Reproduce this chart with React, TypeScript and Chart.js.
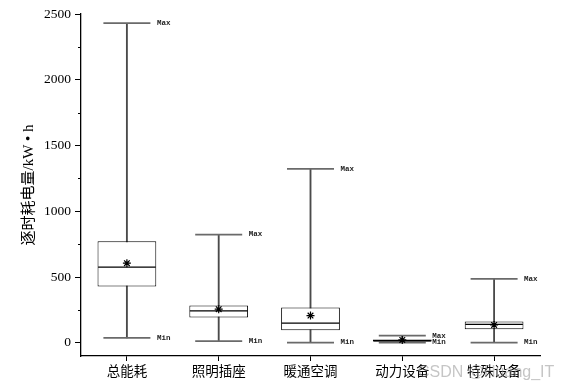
import React, { useEffect, useRef } from "react";
import { Chart, registerables } from "chart.js";

Chart.register(...registerables);

const categories = ["总能耗", "照明插座", "暖通空调", "动力设备", "特殊设备"];
const maxVals = [2430, 823, 1322, 55, 486];
const q3Vals = [773, 283, 268, 25, 162];
const medianVals = [575, 243, 150, 15, 141];
const q1Vals = [428, 192, 96, 10, 104];
const minVals = [38, 13, 2, 2, 2];
const meanVals = [606, 256, 207, 22, 136];
const majorTicks = [0, 500, 1000, 1500, 2000, 2500];
const minorTicks = [250, 750, 1250, 1750, 2250];
const yTitle = "逐时耗电量/kW • h";
const watermark = "CSDN @Huang_IT";

const FONT = "'Liberation Serif', 'Noto Sans CJK SC', serif";

const boxPlugin = {
  id: "boxExtras",
  afterDraw(chart: any) {
    const ctx = chart.ctx;
    const y = chart.scales.y;
    const left = chart.chartArea.left;
    ctx.save();
    ctx.strokeStyle = "#000";
    ctx.lineWidth = 1;
    minorTicks.forEach((v) => {
      const py = Math.round(y.getPixelForValue(v)) + 0.5;
      ctx.beginPath();
      ctx.moveTo(left - 3, py);
      ctx.lineTo(left, py);
      ctx.stroke();
    });
    ctx.font = "bold 7.5px 'Liberation Mono', monospace";
    ctx.fillStyle = "#222";
    ctx.textBaseline = "middle";
    ctx.textAlign = "left";
    const maxMeta = chart.getDatasetMeta(2);
    const minMeta = chart.getDatasetMeta(3);
    maxMeta.data.forEach((pt: any) => ctx.fillText("Max", pt.x + 30, pt.y));
    minMeta.data.forEach((pt: any) => ctx.fillText("Min", pt.x + 30, pt.y));
    ctx.font = "16px 'Liberation Sans', Arial, sans-serif";
    ctx.fillStyle = "rgba(150,150,150,0.55)";
    ctx.textBaseline = "middle";
    ctx.fillText(watermark, 418, 373);
    ctx.restore();
  },
};

export default function App() {
  const ref = useRef<HTMLCanvasElement>(null);
  useEffect(() => {
    if (!ref.current) return;
    const whisker = maxVals.map((m, i) => [minVals[i], m]);
    const box = q3Vals.map((q, i) => [q1Vals[i], q]);
    const chart = new Chart(ref.current, {
      type: "bar",
      data: {
        labels: categories,
        datasets: [
          {
            type: "bar",
            data: whisker as any,
            backgroundColor: "#4a4a4a",
            borderWidth: 0,
            barThickness: 1.2,
            grouped: false,
            order: 6,
          },
          {
            type: "bar",
            data: box as any,
            backgroundColor: "#fff",
            borderColor: "#000",
            borderWidth: 1,
            borderSkipped: false,
            barPercentage: 0.64,
            categoryPercentage: 1,
            grouped: false,
            order: 5,
          },
          {
            type: "line",
            data: maxVals,
            showLine: false,
            pointStyle: "line",
            pointRadius: 23.5,
            pointBorderColor: "#6a6a6a",
            pointBorderWidth: 1.8,
            order: 4,
          },
          {
            type: "line",
            data: minVals,
            showLine: false,
            pointStyle: "line",
            pointRadius: 23.5,
            pointBorderColor: "#6a6a6a",
            pointBorderWidth: 1.8,
            order: 3,
          },
          {
            type: "line",
            data: medianVals,
            showLine: false,
            pointStyle: "line",
            pointRadius: 28.8,
            pointBorderColor: "#000",
            pointBorderWidth: 1.2,
            order: 2,
          },
          {
            type: "line",
            data: meanVals,
            showLine: false,
            pointStyle: "star",
            pointRadius: 4,
            pointBorderColor: "#000",
            pointBorderWidth: 1.2,
            order: 1,
          },
        ] as any,
      },
      options: {
        animation: false,
        responsive: false,
        events: [],
        layout: { autoPadding: false, padding: { top: 14, right: 27, left: 0, bottom: 0 } },
        plugins: { legend: { display: false }, tooltip: { enabled: false } },
        scales: {
          x: {
            type: "category",
            offset: true,
            grid: {
              offset: false,
              drawOnChartArea: false,
              tickLength: 5,
              tickColor: "#000",
            },
            border: { display: true, color: "#000", width: 1.3 },
            ticks: {
              color: "#000",
              padding: 3,
              font: { family: FONT, size: 13.5 },
            },
            afterFit: (s: any) => {
              s.height = 34;
              s.paddingLeft = 0;
              s.paddingRight = 0;
            },
          },
          y: {
            min: -100,
            max: 2500,
            afterBuildTicks: (s: any) => {
              s.ticks = majorTicks.map((v) => ({ value: v }));
            },
            grid: {
              drawOnChartArea: false,
              tickLength: 6,
              tickColor: "#000",
            },
            border: { display: true, color: "#000", width: 1.3 },
            ticks: {
              color: "#000",
              padding: 4,
              font: { family: FONT, size: 13.5 },
              callback: (v: any) => String(v),
            },
            title: {
              display: true,
              text: yTitle,
              color: "#000",
              font: { family: FONT, size: 15 },
              padding: { top: 20, bottom: 0 },
            },
            afterFit: (s: any) => {
              s.width = 81;
              s.paddingTop = 0;
              s.paddingBottom = 0;
            },
          },
        },
      } as any,
      plugins: [boxPlugin],
    });
    return () => chart.destroy();
  }, []);
  return (
    <div style={{ position: "absolute", left: 0, top: 0, width: 567, height: 390, background: "#fff" }}>
      <canvas ref={ref} width={567} height={390} />
    </div>
  );
}
